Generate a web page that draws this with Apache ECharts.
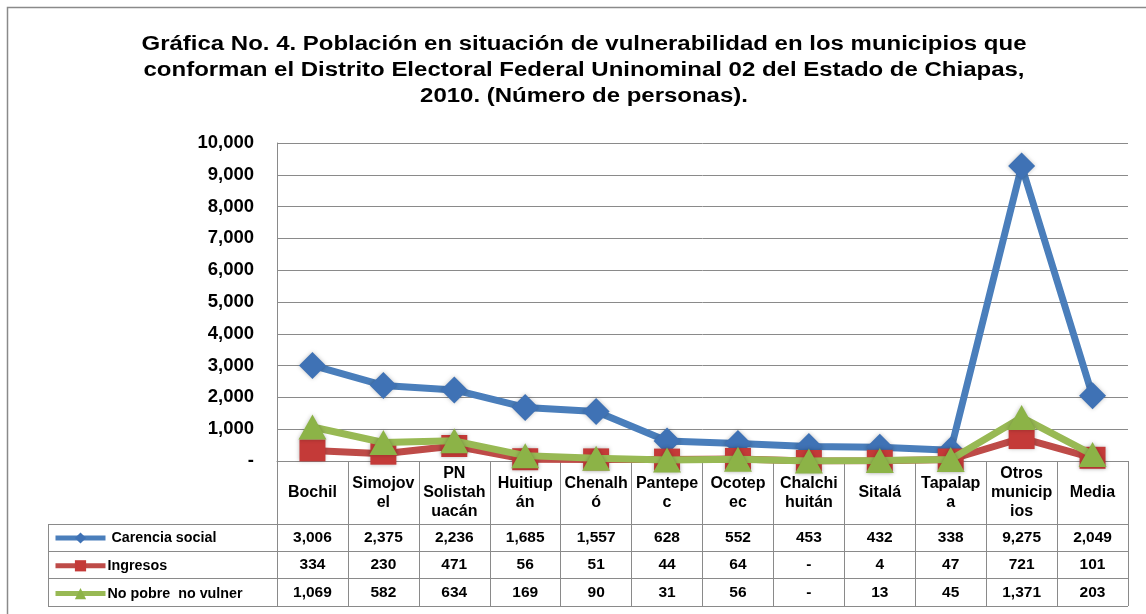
<!DOCTYPE html>
<html><head><meta charset="utf-8">
<script src="https://cdn.jsdelivr.net/npm/echarts@6/dist/echarts.min.js"></script>
<style>html,body{margin:0;padding:0;background:#fff}#c{width:1146px;height:614px}</style>
</head><body><div id="c"></div>
<script>
const categories = ['Bochil','Simojov\nel','PN\nSolistah\nuacán','Huitiup\nán','Chenalh\nó','Pantepe\nc','Ocotep\nec','Chalchi\nhuitán','Sitalá','Tapalap\na','Otros\nmunicip\nios','Media'];
const carencia = [3006,2375,2236,1685,1557,628,552,453,432,338,9275,2049];
const ingresos = [334,230,471,56,51,44,64,0,4,47,721,101];
const noPobre  = [1069,582,634,169,90,31,56,0,13,45,1371,203];
const seriesNames = ['Carencia social','Ingresos','No pobre  no vulner'];
const yMin = 0, yMax = 10000, yStep = 1000;
const titleText = 'Gráfica No. 4. Población en situación de vulnerabilidad en los municipios que\nconforman el Distrito Electoral Federal Uninominal 02 del Estado de Chiapas,\n2010. (Número de personas).';

const FONT = "'Liberation Sans', Arial, sans-serif";
const GRAY = '#8a8a8a';
const fmt = v => v === 0 ? '-' : v.toLocaleString('en-US');

const chart = echarts.init(document.getElementById('c'), null, {renderer:'canvas'});

function rowAxis(values, margin){
  return {
    type:'category', gridIndex:0, position:'bottom', data:categories, boundaryGap:true,
    axisLine:{show:false}, axisTick:{show:false}, splitLine:{show:false},
    axisLabel:{interval:0, margin:margin, verticalAlign:'middle', color:'#000',
      fontFamily:FONT, fontWeight:'bold', fontSize:15.5,
      formatter:(v,i)=>fmt(values[i])}
  };
}

const colors = ['#4a7ebb','#be4b48','#98b954'];
const symColors = ['#3f72b5','#c43a38','#8cb347'];

chart.setOption({
  animation:false,
  backgroundColor:'#fff',
  grid:{left:277, right:18, top:143, bottom:153, containLabel:false, outerBoundsMode:'none'},
  legend:{orient:'vertical', left:53, top:531, padding:0, itemWidth:50, itemHeight:14, itemGap:13.8,
    data:seriesNames, selectedMode:false,
    lineStyle:{width:5},
    formatter:n => n === 'Carencia social' ? ' ' + n : n,
    textStyle:{fontFamily:FONT, fontWeight:'bold', fontSize:14.3, lineHeight:14, color:'#000', padding:[0,0,0,-3]}},
  xAxis:[
    {type:'category', gridIndex:0, position:'bottom', data:categories, boundaryGap:true,
     axisLine:{show:true, lineStyle:{color:GRAY, width:1}},
     axisTick:{show:true, interval:0, length:145, lineStyle:{color:GRAY, width:1}},
     splitLine:{show:false},
     axisLabel:{interval:0, margin:32, verticalAlign:'middle', color:'#000', lineHeight:19,
       fontFamily:FONT, fontWeight:'bold', fontSize:16}},
    rowAxis(carencia, 77),
    rowAxis(ingresos, 104),
    rowAxis(noPobre, 132)
  ],
  yAxis:{type:'value', min:yMin, max:yMax, interval:yStep,
    axisLine:{show:true, lineStyle:{color:GRAY, width:1}},
    axisTick:{show:false},
    splitLine:{show:true, lineStyle:{color:GRAY, width:1}},
    axisLabel:{margin:23, color:'#000', fontFamily:FONT, fontWeight:'bold', fontSize:18.5, formatter:fmt}},
  series:[
    {name:seriesNames[0], type:'line', data:carencia, symbol:'diamond', symbolSize:27, z:2,
     lineStyle:{color:colors[0], width:7}, itemStyle:{color:symColors[0], shadowBlur:4, shadowColor:'rgba(0,0,0,0.25)'}, emphasis:{disabled:true}},
    {name:seriesNames[1], type:'line', data:ingresos, symbol:'rect', symbolSize:[26,22], z:3,
     lineStyle:{color:colors[1], width:7}, itemStyle:{color:symColors[1], shadowBlur:4, shadowColor:'rgba(0,0,0,0.25)'}, emphasis:{disabled:true}},
    {name:seriesNames[2], type:'line', data:noPobre, symbol:'triangle', symbolSize:[28,25], z:4,
     lineStyle:{color:colors[2], width:7}, itemStyle:{color:symColors[2], shadowBlur:4, shadowColor:'rgba(0,0,0,0.25)'}, emphasis:{disabled:true}}
  ]
});

// table borders, positioned from the axes' own scales
const p0 = chart.convertToPixel({xAxisIndex:0}, 0);
const p1 = chart.convertToPixel({xAxisIndex:0}, 1);
const pn = chart.convertToPixel({xAxisIndex:0}, categories.length - 1);
const half = (p1 - p0) / 2;
const xR = pn + half;
const y0 = chart.convertToPixel({yAxisIndex:0}, 0);
const legendLeft = 48;
const rowOffsets = [63, 90, 117, 145];
const ls = {stroke:GRAY, lineWidth:1};
const els = rowOffsets.map(o => ({type:'line', silent:true, shape:{x1:legendLeft, y1:Math.round(y0+o)+0.5, x2:xR, y2:Math.round(y0+o)+0.5}, style:ls}));
els.push({type:'line', silent:true, shape:{x1:legendLeft+0.5, y1:y0+63, x2:legendLeft+0.5, y2:y0+145}, style:ls});
els.push({type:'rect', silent:true, shape:{x:7.5, y:7.5, width:1300, height:800}, style:{fill:null, stroke:GRAY, lineWidth:1.5}});
els.push({type:'text', silent:true, x:584, y:32, scaleX:1.23, scaleY:1,
  style:{text:titleText, fontFamily:FONT, fontWeight:'bold', fontSize:19.5, lineHeight:26,
    textAlign:'center', textVerticalAlign:'top', verticalAlign:'top', fill:'#000'}});
chart.setOption({graphic:els});
</script></body></html>
